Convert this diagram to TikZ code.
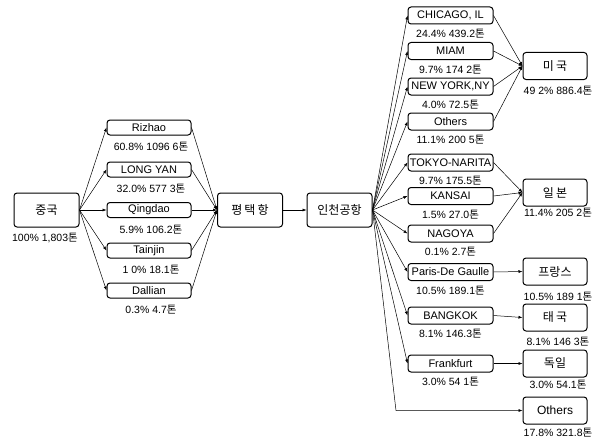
\documentclass[tikz,border=0pt]{standalone}
\usepackage{fontspec}
\setmainfont{Liberation Sans}
\newfontfamily\krfont{Noto Sans CJK KR}
\usetikzlibrary{arrows.meta}
\newcommand{\ton}{{\krfont 톤}}

\begin{document}
\begin{tikzpicture}[
    x=1pt,y=-1pt,
    every node/.style={font=\fontsize{11}{12}\selectfont, inner sep=0pt},
    box/.style={draw=black, rounded corners=3pt, line width=1pt, fill=white},
    port/.style={box, minimum width=84pt, minimum height=15pt},
    city/.style={box, minimum width=85pt, minimum height=17pt},
    nation/.style={box, minimum width=64pt, minimum height=27pt, font=\fontsize{12}{14}\selectfont},
    hub/.style={box, minimum width=65pt, minimum height=34pt, font=\krfont\fontsize{12}{14}\selectfont},
    share/.style={font=\fontsize{10.5}{12}\selectfont},
    flow/.style={-{Latex[length=4pt,width=3pt]}, line width=0.5pt}
]
    \useasboundingbox (0,0) rectangle (604,444);

    % origin and hubs
    \node[hub] (china) at (46.5,210) {중국};
    \node[share] (chinalab) at (45,238) {100\% 1,803\ton};
    \node[hub] (ptk) at (250,210) {평\,택\,항};
    \node[hub] (icn) at (339.5,210) {인천공항};

    % chinese ports
    \foreach \i/\y/\lab/\val in {1/127.5/Rizhao/60.8\% 1096 6,2/169.5/LONG YAN/32.0\% 577 3,
        3/210/Qingdao/5.9\% 106.2,4/250.5/Tainjin/1 0\% 18.1,5/290.5/Dallian/0.3\% 4.7} {
        \node[port] (p\i) at (149,\y) {\lab};
        \node[share] (pl\i) at (151,\y+19.5) {\val\ton};
    }

    % destination airports
    \foreach \i/\y/\lab/\val in {1/15.5/{CHICAGO, IL}/24.4\% 439.2,2/51/MIAM/9.7\% 174 2,
        3/86.5/{NEW YORK,NY}/4.0\% 72.5,4/121.5/Others/11.1\% 200 5,
        5/162.5/TOKYO-NARITA/9.7\% 175.5,6/196/KANSAI/1.5\% 27.0,7/233.5/NAGOYA/0.1\% 2.7,
        8/272/Paris-De Gaulle/10.5\% 189.1,9/315.5/BANGKOK/8.1\% 146.3,10/363.5/Frankfurt/3.0\% 54 1} {
        \node[city] (c\i) at (450.5,\y) {\lab};
        \node[share] (cl\i) at (450.5,\y+18.5) {\val\ton};
    }

    % countries
    \node[nation] (usa) at (555,66) {\krfont 미\,국};
    \node[share] (usalab) at (558,91) {49 2\% 886.4\ton};
    \node[nation] (jpn) at (555,192.5) {\krfont 일\,본};
    \node[share] (jpnlab) at (558,213) {11.4\% 205 2\ton};
    \node[nation] (fra) at (555,271.5) {\krfont 프랑스};
    \node[share] (fralab) at (558,297) {10.5\% 189 1\ton};
    \node[nation] (tha) at (555,317.5) {\krfont 태\,국};
    \node[share] (thalab) at (558,342) {8.1\% 146 3\ton};
    \node[nation] (ger) at (555,363.5) {\krfont 독일};
    \node[share] (gerlab) at (558,385) {3.0\% 54.1\ton};
    \node[nation] (oth) at (555,410.5) {Others};
    \node[share] (othlab) at (558,433) {17.8\% 321.8\ton};

    \coordinate (bend) at (396,410.5);

    % flows
    \foreach \i in {1,...,5} {
        \draw[flow] (china.east) -- (p\i.west);
        \draw[flow] (p\i.east) -- (ptk.west);
    }
    \draw[flow] (ptk.east) -- (icn.west);
    \foreach \i in {1,...,10}
        \draw[flow] (icn.east) -- (c\i.west);
    \foreach \i in {1,...,4}
        \draw[flow] (c\i.east) -- (usa.west);
    \foreach \i in {5,6,7}
        \draw[flow] (c\i.east) -- (jpn.west);
    \draw[flow] (c8.east) -- (fra.west);
    \draw[flow] (c9.east) -- (tha.west);
    \draw[flow] (c10.east) -- (ger.west);
    \draw[flow] (icn.east) -- (bend) -- (oth.west);
\end{tikzpicture}
\end{document}
